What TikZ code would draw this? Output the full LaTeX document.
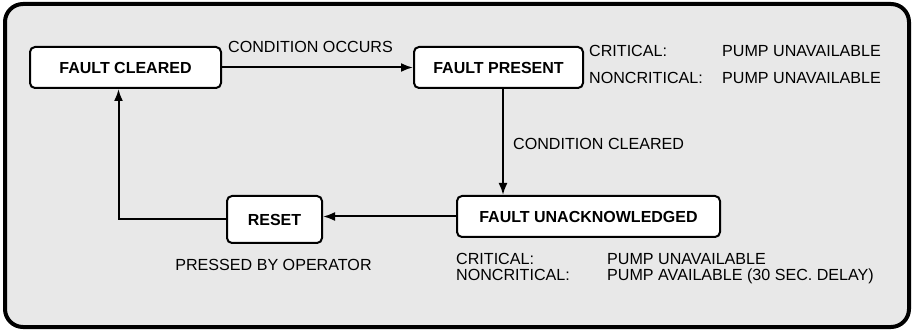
\documentclass[tikz,border=0pt]{standalone}
\usepackage{fontspec}
\setmainfont{Liberation Sans}
\usetikzlibrary{arrows.meta}
\definecolor{panel}{HTML}{E8E8E8}
\tikzset{
  state/.style={draw, line width=2pt, rounded corners=5pt, fill=white,
    font=\fontsize{16pt}{15pt}\selectfont\bfseries, inner sep=0pt, minimum height=41pt},
  flow/.style={line width=2pt, -{Latex[length=12pt,width=9pt]}},
  note/.style={inner sep=0pt, anchor=base west, font=\fontsize{16.1pt}{15pt}\selectfont},
}
\begin{document}
\begin{tikzpicture}[x=1pt,y=-1pt]
        \useasboundingbox (0,0) rectangle (913,331);
        %% panel
        \draw[line width=4pt, rounded corners=18pt, fill=panel] (5,4) rectangle (909,327);
        %% states
        \node[state, minimum width=191pt] (cleared) at (125.5,67.5) {FAULT CLEARED};
        \node[state, minimum width=169pt] (present) at (498.5,67.5) {FAULT PRESENT};
        \node[state, minimum width=263pt] (unack) at (588.5,216.5) {FAULT UNACKNOWLEDGED};
        \node[state, minimum width=95pt, minimum height=47pt] (reset) at (274.5,219.5) {RESET};
        %% transitions
        \draw[flow] (cleared.east) -- (present.west);
        \draw[flow] ([xshift=4.5pt]present.south) -- ([xshift=4.5pt]present.south |- unack.north);
        \draw[flow] (unack.west) -- (unack.west -| reset.east);
        \draw[flow] (reset.west) -| ([xshift=-7pt]cleared.south);
        %% transition labels
        \node[note] (occurs) at (228,53) {CONDITION OCCURS};
        \node[note] (clearedlbl) at (513,150) {CONDITION CLEARED};
        \node[note, anchor=base] (pressed) at (273.5,270.5) {PRESSED BY OPERATOR};
        %% pump status, fault present
        \node[note] (crit1) at (589,56.7) {CRITICAL:};
        \node[note] (pump1) at (722,56.7) {PUMP UNAVAILABLE};
        \node[note] (noncrit1) at (589,83.3) {NONCRITICAL:};
        \node[note] (pump2) at (722,83.3) {PUMP UNAVAILABLE};
        %% pump status, fault unacknowledged
        \node[note] (crit2) at (456,265) {CRITICAL:};
        \node[note] (pump3) at (607,265) {PUMP UNAVAILABLE};
        \node[note] (noncrit2) at (456,280) {NONCRITICAL:};
        \node[note] (pump4) at (607,280) {PUMP AVAILABLE (30 SEC. DELAY)};
    \end{tikzpicture}
\end{document}
